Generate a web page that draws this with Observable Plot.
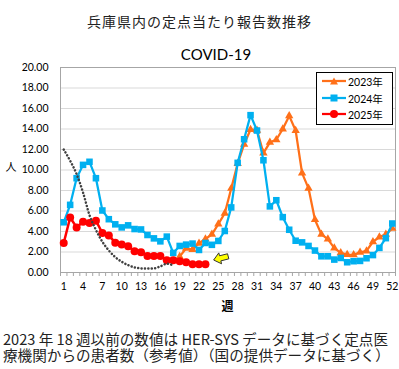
<!DOCTYPE html>
<html><head><meta charset="utf-8">
<script src="https://cdn.jsdelivr.net/npm/d3@7"></script>
<script src="https://cdn.jsdelivr.net/npm/@observablehq/plot@0.6"></script>
<style>
body{margin:0;background:#fff;}
#wrap{position:relative;width:399px;height:369px;overflow:hidden;font-family:Lato,"Noto Sans CJK JP",sans-serif;color:#000;}
.abs{position:absolute;white-space:nowrap;}
#title{left:0;width:399px;top:13px;text-align:center;font-family:"Noto Sans CJK JP";font-size:14px;line-height:16px;letter-spacing:1px;color:#222;}
#sub{left:166px;width:100px;top:46px;text-align:center;font-family:Lato;font-size:15px;line-height:16px;}
#chart{position:absolute;left:0;top:60px;}
#ylab{left:5px;top:158px;width:12px;text-align:center;font-family:"Noto Sans CJK JP";font-size:11px;line-height:16px;}
#xlab{left:60px;width:335px;top:298px;text-align:center;font-family:"Noto Sans CJK JP";font-size:12px;line-height:16px;font-weight:bold;}
#caption{left:3px;top:331px;font-family:"Noto Sans CJK JP";font-size:14.6px;line-height:16px;color:#222;}
#legend{left:316px;top:72px;width:75px;height:51px;border:1px solid #000;background:#fff;}
.row{position:absolute;left:0;height:16px;width:75px;}
.row svg{position:absolute;left:5px;top:3px;}
.row span{position:absolute;left:31px;top:0;font-size:10.5px;line-height:16px;font-family:Lato,"Noto Sans CJK JP";}
</style></head>
<body>
<div id="wrap">
  <div id="title" class="abs">兵庫県内の定点当たり報告数推移</div>
  <div id="sub" class="abs">COVID-19</div>
  <div id="chart"></div>
  <div id="ylab" class="abs">人</div>
  <div id="xlab" class="abs">週</div>
  <div id="legend" class="abs"></div>
  <div id="caption" class="abs">2023 年 18 週以前の数値は HER-SYS データに基づく定点医<br>療機関からの患者数（参考値）（国の提供データに基づく）</div>
</div>
<script>
const weeks = [1,2,3,4,5,6,7,8,9,10,11,12,13,14,15,16,17,18,19,20,21,22,23,24,25,26,27,28,29,30,31,32,33,34,35,36,37,38,39,40,41,42,43,44,45,46,47,48,49,50,51,52];
const xTickLabels = [1,4,7,10,13,16,19,22,25,28,31,34,37,40,43,46,49,52];
const yTickLabels = [0,2,4,6,8,10,12,14,16,18,20];
const seriesNames = ["2023年","2024年","2025年"];
const v2023 = [null,null,null,null,null,null,null,null,null,null,null,null,null,null,null,null,null,null,
  1.55,2.36,2.23,2.85,3.27,3.72,4.72,5.78,8.2,10.62,12.5,13.95,13.88,11.65,12.7,12.95,14.0,15.28,13.85,9.7,8.21,5.15,3.72,3.25,2.38,1.92,1.75,1.72,1.97,2.1,3.0,3.46,3.72,4.3];
const v2024 = [4.9,6.6,9.2,10.5,10.8,9.2,6.05,5.2,4.7,4.4,4.6,4.24,4.2,3.66,3.33,3.04,3.5,1.91,2.59,2.72,2.82,2.2,2.88,2.7,3.08,4.05,6.35,10.7,13.0,15.35,13.85,10.95,6.45,7.05,5.4,4.17,3.1,2.94,2.59,2.14,1.58,1.58,1.26,1.42,1.0,1.1,1.13,1.39,1.7,2.4,3.35,4.78];
const v2025 = [2.88,5.37,4.4,4.95,4.82,5.05,3.85,3.62,2.91,2.72,2.55,2.08,1.97,1.6,1.6,1.6,1.2,1.2,1.1,1.0,0.8,0.8,0.8];
const ref2023 = [12.0,10.9,9.6,7.8,5.6,4.15,3.0,2.15,1.5,1.05,0.72,0.5,0.4,0.38,0.4,0.6,0.85,0.7];
const arrowWeek = [25.4];
const arrowValue = [1.4];
const colors = ["#FF7019","#00B0F0","#FF0000"];
const refColor = "#404040";

const rows = weeks.map((w,i) => ({week:w, a:v2023[i], b:v2024[i], c:v2025[i], d:ref2023[i]}));
const boundaries = [0.5, ...weeks.map(w => w + 0.5)];
const arrows = arrowWeek.map((w,i) => ({week:w, v:arrowValue[i]}));

const arrowSymbol = {
  draw(context, size) {
    const r = Math.sqrt(size / Math.PI);
    const pts = [[-1,0],[-0.1,-0.75],[-0.1,-0.35],[1,-0.35],[1,0.35],[-0.1,0.35],[-0.1,0.75]];
    const a = -0.25, c = Math.cos(a), s = Math.sin(a);
    pts.forEach(([x,y],i) => {
      const X = (x*c - y*s)*r, Y = (x*s + y*c)*r;
      if (i) context.lineTo(X,Y); else context.moveTo(X,Y);
    });
    context.closePath();
  }
};

const chart = Plot.plot({
  width: 399, height: 240,
  marginLeft: 60, marginRight: 4, marginTop: 7, marginBottom: 28,
  style: {fontFamily: "Lato", fontSize: "10.5px", color: "#000", background: "transparent", overflow: "visible"},
  x: {type: "linear", domain: [0.5, 52.5]},
  y: {domain: [0, 20]},
  marks: [
    Plot.ruleY(yTickLabels, {stroke: "#D9D9D9", strokeWidth: 1}),
    Plot.frame({stroke: "#A6A6A6"}),
    Plot.axisY({ticks: yTickLabels, tickSize: 0, tickPadding: 12, tickFormat: d3.format(".2f"), label: null}),
    Plot.axisX({ticks: boundaries, tickSize: 4, stroke: "#A6A6A6", tickFormat: () => "", label: null}),
    Plot.axisX({ticks: xTickLabels, tickSize: 0, tickPadding: 10, tickFormat: d => String(d), label: null}),
    Plot.line(rows, {x: "week", y: "a", stroke: colors[0], strokeWidth: 2.25}),
    Plot.dot(rows, {x: "week", y: "a", symbol: "triangle", r: 3.1, fill: colors[0]}),
    Plot.line(rows, {x: "week", y: "b", stroke: colors[1], strokeWidth: 2.25}),
    Plot.dot(rows, {x: "week", y: "b", symbol: "square", r: 3.7, fill: colors[1]}),
    Plot.line(rows, {x: "week", y: "c", stroke: colors[2], strokeWidth: 2.5}),
    Plot.dot(rows, {x: "week", y: "c", r: 4, fill: colors[2]}),
    Plot.line(rows, {x: "week", y: "d", stroke: refColor, strokeWidth: 2.5, strokeDasharray: "0.1 3.3", strokeLinecap: "round", curve: "monotone-x"}),
    Plot.dot(arrows, {x: "week", y: "v", symbol: arrowSymbol, r: 7.5, fill: "#FFFF00", stroke: "#333", strokeWidth: 1})
  ]
});
document.getElementById("chart").appendChild(chart);

// legend
const legend = document.getElementById("legend");
const shapes = [
  c => `<polygon points="12,0.5 16,7.5 8,7.5" fill="${c}"/>`,
  c => `<rect x="8.5" y="0.5" width="7" height="7" fill="${c}"/>`,
  c => `<circle cx="12" cy="4" r="4" fill="${c}"/>`
];
const tops = [1, 18, 34];
seriesNames.forEach((name, i) => {
  const row = document.createElement("div");
  row.className = "row";
  row.style.top = tops[i] + "px";
  row.innerHTML = `<svg width="25" height="9"><line x1="0" x2="24" y1="4" y2="4" stroke="${colors[i]}" stroke-width="2.25"/>${shapes[i](colors[i])}</svg><span>${name}</span>`;
  legend.appendChild(row);
});
</script>
</body></html>
